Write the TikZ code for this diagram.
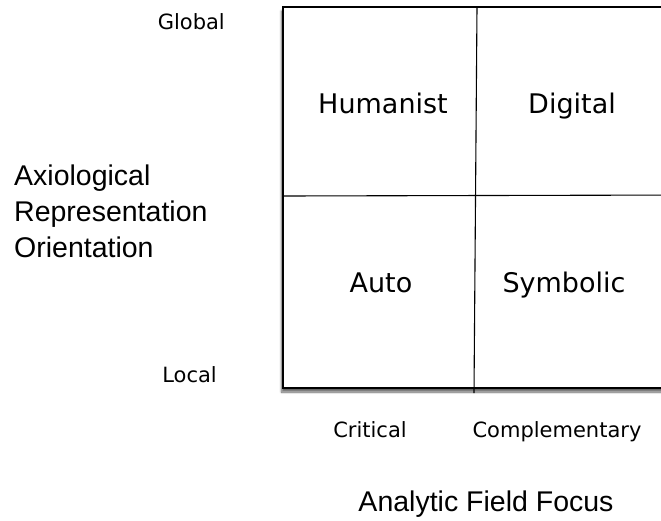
\documentclass[tikz,border=0pt]{standalone}
\usepackage{fontspec}
\setmainfont{DejaVu Sans}
\newfontfamily\axisfont{Liberation Sans}
\usetikzlibrary{shadows.blur}
\tikzset{
	cell/.style={font=\fontsize{27}{32}\selectfont},
	pole/.style={font=\fontsize{21}{25}\selectfont, inner sep=0pt},
	axistitle/.style={font=\axisfont\fontsize{28.5}{36}\selectfont, align=left, inner sep=0pt}
}
\begin{document}
\begin{tikzpicture}[x=1pt,y=-1pt]
				\useasboundingbox (0,0) rectangle (661,520);
				\clip (0,0) rectangle (661,520);
				
				\draw[line width=1.6pt, fill=white, blur shadow={shadow xshift=-1.5pt, shadow yshift=-4pt, shadow blur steps=6, shadow opacity=60}] (283,7) rectangle (690,388);
				\draw[line width=1.1pt] (477,7) -- (474,393);
				\draw[line width=1.1pt] (283,196) -- (690,195);
				
				\node[cell, anchor=base] (humanist) at (383,113) {Humanist};
				\node[cell, anchor=base] (digital) at (572,113) {Digital};
				\node[cell, anchor=base] (auto) at (381,292) {Auto};
				\node[cell, anchor=base] (symbolic) at (564,292) {Symbolic};
				
				\node[pole, anchor=base east] (global) at (225,29) {Global};
				\node[pole, anchor=base east] (local) at (217,382) {Local};
				\node[pole, anchor=base] (critical) at (370,437) {Critical};
				\node[pole, anchor=base] (complementary) at (557,437) {Complementary};
				
				\node[axistitle, anchor=west] (vaxis) at (14,211) {Axiological\\Representation\\Orientation};
				\node[axistitle, anchor=base] (haxis) at (486,511) {Analytic Field Focus};
			\end{tikzpicture}
\end{document}
